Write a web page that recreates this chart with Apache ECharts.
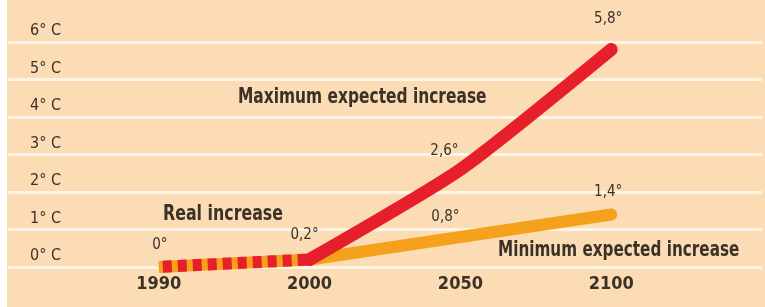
<!DOCTYPE html>
<html>
<head>
<meta charset="utf-8">
<script src="https://cdn.jsdelivr.net/npm/echarts@6/dist/echarts.min.js"></script>
<style>
  html, body { margin: 0; padding: 0; background: #fff; }
  #main { width: 765px; height: 307px; }
</style>
</head>
<body>
<div id="main"></div>
<script>
// categories (empty ones pad the plot to the full width)
var years = ['', '1990', '2000', '2050', '2100', ''];
var realIncrease = ['-', 0, 0.2, '-', '-', '-'];
var maxIncrease = ['-', '-', 0.2, 2.6, 5.8, '-'];
var minIncrease = ['-', '-', 0.2, 0.8, 1.4, '-'];
var yTicks = ['0° C', '1° C', '2° C', '3° C', '4° C', '5° C', '6° C'];

var RED = '#e61f2b';
var ORANGE = '#f6a11c';
var INK = '#3b3127';
var FONT = '"DejaVu Sans Condensed", "Liberation Sans Narrow", sans-serif';

function fmt(v) {
    return String(v).replace('.', ',') + '°';
}

// which points get a value label, and how far it is nudged
function withLabels(values, shown, offsets) {
    return values.map(function (v, i) {
        if (v === '-') return v;
        var show = shown.indexOf(i) >= 0;
        return {
            value: v,
            label: { show: show, offset: offsets[i] || [0, 0] }
        };
    });
}

var labelStyle = {
    show: false,
    position: 'top',
    distance: 14,
    color: INK,
    fontFamily: FONT,
    fontSize: 15,
    formatter: function (p) { return fmt(p.value); }
};

function note(text, x, y, sx) {
    return {
        type: 'text', x: x, y: y, scaleX: sx, z: 100,
        style: { text: text, fill: INK, font: 'bold 22px ' + FONT, textVerticalAlign: 'top' }
    };
}

var myChart = echarts.init(document.getElementById('main'));

myChart.setOption({
    backgroundColor: '#fcdcb4',
    animation: false,
    grid: { left: 8, right: 0, top: 42, bottom: 40 },
    xAxis: {
        type: 'category',
        data: years,
        boundaryGap: false,
        axisLine: { show: false },
        axisTick: { show: false },
        splitLine: { show: false },
        axisLabel: {
            margin: 8,
            color: INK,
            fontFamily: FONT,
            fontWeight: 'bold',
            fontSize: 18
        }
    },
    yAxis: {
        type: 'value',
        min: 0,
        max: 6,
        interval: 1,
        axisLine: { show: false },
        axisTick: { show: false },
        splitLine: { lineStyle: { color: '#fff5e6', width: 3 } },
        axisLabel: {
            inside: true,
            margin: 22,
            verticalAlign: 'bottom',
            padding: [0, 0, 3, 0],
            color: INK,
            fontFamily: FONT,
            fontSize: 16,
            formatter: function (v) { return yTicks[v]; }
        }
    },
    graphic: [
        { type: 'rect', x: 0, y: 0, shape: { width: 7, height: 307 }, style: { fill: '#ffffff' }, z: 100 },
        note('Maximum expected increase', 238, 86, 0.78),
        note('Real increase', 163, 203, 0.8),
        note('Minimum expected increase', 498, 239, 0.77)
    ],
    series: [
        {
            name: 'min',
            type: 'line',
            data: withLabels(minIncrease, [3, 4], { 3: [-15, 2], 4: [-3, 0] }),
            symbol: 'circle',
            symbolSize: 1,
            itemStyle: { color: ORANGE },
            clip: false,
            label: labelStyle,
            lineStyle: { color: ORANGE, width: 12, cap: 'round' },
            z: 2
        },
        {
            name: 'real',
            type: 'line',
            data: withLabels(realIncrease, [1, 2], { 1: [1, 0], 2: [-5, -2] }),
            symbol: 'circle',
            symbolSize: 1,
            itemStyle: { color: ORANGE },
            clip: false,
            label: labelStyle,
            lineStyle: { color: ORANGE, width: 12, cap: 'butt' },
            z: 3
        },
        {
            name: 'real-dash',
            type: 'line',
            data: realIncrease,
            symbol: 'none',
            clip: false,
            lineStyle: { color: RED, width: 12, type: [9, 6], dashOffset: -4, cap: 'butt' },
            z: 4
        },
        {
            name: 'max',
            type: 'line',
            data: withLabels(maxIncrease, [3, 4], { 3: [-16, 4], 4: [-3, -8] }),
            smooth: 0.2,
            symbol: 'circle',
            symbolSize: 1,
            itemStyle: { color: RED },
            clip: false,
            label: labelStyle,
            lineStyle: { color: RED, width: 13, cap: 'round' },
            z: 5
        }
    ]
});
</script>
</body>
</html>
